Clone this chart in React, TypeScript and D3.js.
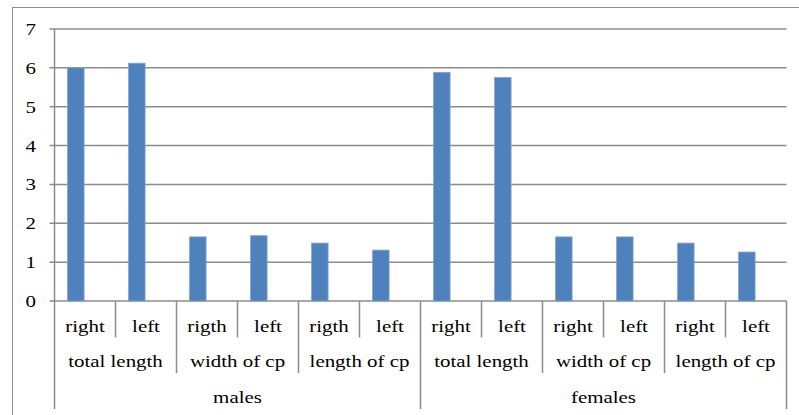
import React from "react";
import * as d3 from "d3";

const sexes = ["males", "females"];
const measures = ["total length", "width of cp", "length of cp"];
const sideLabels = [
  ["right", "left"], ["rigth", "left"], ["rigth", "left"],
  ["right", "left"], ["right", "left"], ["right", "left"],
];
const values = [6.0, 6.12, 1.65, 1.68, 1.49, 1.31, 5.885, 5.75, 1.65, 1.65, 1.49, 1.26];
const yTicks = [0, 1, 2, 3, 4, 5, 6, 7];

const W = 799, H = 415;
const left = 54.5, right = 786.5, top = 29, bottom = 301;
const grey = "#8c8c8c";
const txt: React.CSSProperties = { fontFamily: "'Liberation Serif', 'Times New Roman', serif", fontSize: "17px" };
const SX = 1.23;

function Label({ x, y, anchor, children }: { x: number; y: number; anchor: string; children: React.ReactNode }) {
  return (
    <text transform={`translate(${x},${y}) scale(${SX},1)`} dy="0.35em" textAnchor={anchor} style={txt} fill="#000">
      {children}
    </text>
  );
}

export default function App() {
  const idx = values.map((_, i) => i);
  const x = d3.scaleBand<number>().domain(idx).range([left, right]).padding(0);
  const y = d3.scaleLinear().domain([0, 7]).range([bottom, top]);
  const bw = x.bandwidth();
  const row1 = 337.5, row2 = 373, row3 = 409;

  const cats: { label: string; i: number }[] = [];
  sideLabels.forEach((pair, g) => pair.forEach((l, k) => cats.push({ label: l, i: g * 2 + k })));

  return (
    <svg width={W} height={H} style={{ position: "absolute", left: 0, top: 0 }}>
      <rect x={12.5} y={7.5} width={W} height={H} fill="white" stroke={grey} strokeWidth={1} />
      {yTicks.map((t) => (
        <g key={t}>
          <line x1={left - 5} x2={right} y1={y(t)} y2={y(t)} stroke={grey} strokeWidth={1.5} />
          <Label x={36} y={y(t)} anchor="end">{t}</Label>
        </g>
      ))}
      <line x1={left} x2={left} y1={top} y2={row3} stroke={grey} strokeWidth={1.5} />
      <line x1={right} x2={right} y1={bottom} y2={row3} stroke={grey} strokeWidth={1.5} />
      {values.map((v, i) => (
        <rect key={i} x={(x(i) as number) + bw * 0.215} width={bw * 0.27} y={y(v)} height={y(0) - y(v)}
          fill="#4f81bd" stroke="#7ea3d3" strokeWidth={0.8} />
      ))}
      {cats.map((c) => (
        <g key={c.i}>
          {c.i > 0 && c.i % 2 === 1 && (
            <line x1={x(c.i)} x2={x(c.i)} y1={bottom} y2={row1} stroke={grey} strokeWidth={1.5} />
          )}
          <Label x={(x(c.i) as number) + bw / 2} y={326} anchor="middle">{c.label}</Label>
        </g>
      ))}
      {d3.range(6).map((g) => (
        <g key={g}>
          {g > 0 && g % 3 !== 0 && (
            <line x1={x(g * 2)} x2={x(g * 2)} y1={bottom} y2={row2} stroke={grey} strokeWidth={1.5} />
          )}
          <Label x={(x(g * 2) as number) + bw} y={361} anchor="middle">{measures[g % 3]}</Label>
        </g>
      ))}
      {sexes.map((s, k) => (
        <g key={s}>
          {k > 0 && <line x1={x(k * 6)} x2={x(k * 6)} y1={bottom} y2={row3} stroke={grey} strokeWidth={1.5} />}
          <Label x={(x(k * 6) as number) + bw * 3} y={397} anchor="middle">{s}</Label>
        </g>
      ))}
    </svg>
  );
}
